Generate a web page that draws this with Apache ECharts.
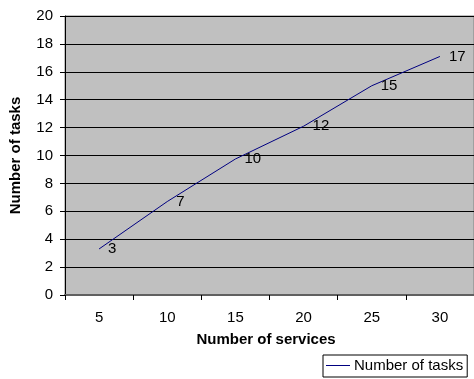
<!DOCTYPE html>
<html>
<head>
<meta charset="utf-8">
<script src="https://cdn.jsdelivr.net/npm/echarts@6/dist/echarts.min.js"></script>
<style>
  html, body { margin: 0; padding: 0; background: #fff; }
  #chart { width: 474px; height: 379px; }
</style>
</head>
<body>
<div id="chart"></div>
<script>
// Number of services on the x axis, number of tasks on the y axis
const services = ['5', '10', '15', '20', '25', '30'];
const tasks = [3.3, 6.7, 9.75, 12.1, 15.0, 17.1];
const yTicks = { min: 0, max: 20, step: 2 };

const FONT = 'Arial, "Liberation Sans", sans-serif';

const chart = echarts.init(document.getElementById('chart'), null, { renderer: 'canvas' });

chart.setOption({
  backgroundColor: '#ffffff',
  animation: false,
  grid: {
    left: 65,
    top: 16,
    width: 414,
    bottom: 84,
    show: true,
    backgroundColor: '#c0c0c0',
    borderColor: '#808080',
    borderWidth: 1
  },
  legend: {
    data: ['Number of tasks'],
    left: 323,
    top: 355,
    orient: 'horizontal',
    icon: 'rect',
    itemWidth: 24,
    itemHeight: 1,
    itemGap: 4,
    padding: [3, 4, 4, 3],
    borderColor: '#000',
    borderWidth: 1,
    backgroundColor: '#fff',
    textStyle: { fontFamily: FONT, fontSize: 15, color: '#000', padding: [0, 0, 0, -1] }
  },
  xAxis: {
    type: 'category',
    data: services,
    boundaryGap: true,
    axisLine: { show: true, lineStyle: { color: '#606060', width: 2 } },
    axisTick: { show: true, inside: false, length: 5, lineStyle: { color: '#000', width: 1 } },
    axisLabel: { fontFamily: FONT, fontSize: 15, color: '#000', margin: 15 },
    splitLine: { show: false }
  },
  yAxis: {
    type: 'value',
    min: yTicks.min,
    max: yTicks.max,
    interval: yTicks.step,
    name: 'Number of tasks',
    nameLocation: 'middle',
    nameGap: 42,
    nameTextStyle: { fontFamily: FONT, fontSize: 15, fontWeight: 'bold', color: '#000' },
    axisLine: { show: true, lineStyle: { color: '#000', width: 1 } },
    axisTick: { show: true, inside: false, length: 5, lineStyle: { color: '#000' } },
    axisLabel: { fontFamily: FONT, fontSize: 15, color: '#000', margin: 12 },
    splitLine: { show: true, lineStyle: { color: '#000', width: 1 } }
  },
  graphic: [{
    type: 'text',
    x: 266,
    y: 340,
    style: {
      text: 'Number of services',
      font: 'bold 15px ' + FONT,
      fill: '#000',
      align: 'center',
      verticalAlign: 'middle'
    }
  }],
  series: [{
    name: 'Number of tasks',
    type: 'line',
    data: tasks,
    showSymbol: true,
    symbol: 'circle',
    symbolSize: 0,
    lineStyle: { color: '#000080', width: 1 },
    itemStyle: { color: '#000080' },
    label: {
      show: true,
      position: 'right',
      distance: 9,
      fontFamily: FONT,
      fontSize: 15,
      color: '#000',
      formatter: p => String(Math.round(p.value))
    }
  }]
});
</script>
</body>
</html>
